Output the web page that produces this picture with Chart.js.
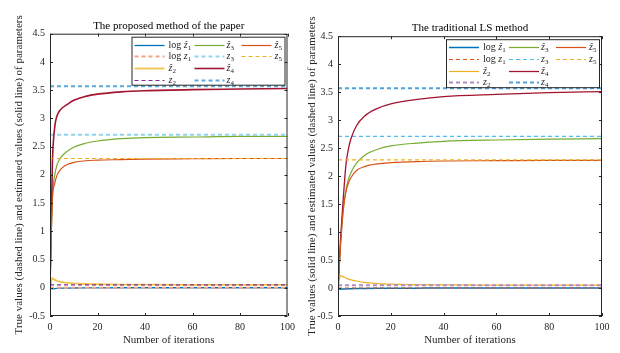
<!DOCTYPE html>
<html>
<head>
<meta charset="utf-8">
<script src="https://cdn.jsdelivr.net/npm/chart.js@4.4.1/dist/chart.umd.min.js"></script>
<style>
  html, body { margin: 0; padding: 0; background: #fff; }
  #wrap { position: relative; width: 620px; height: 353px; overflow: hidden; }
  canvas { position: absolute; top: 0; }
  #leftChart { left: 0; }
  #rightChart { left: 300px; }
</style>
</head>
<body>
<div id="wrap">
  <canvas id="leftChart" width="300" height="353"></canvas>
  <canvas id="rightChart" width="320" height="353"></canvas>
</div>
<script>
// ===== Data =====
const iterations = [0, 1, 2, 3, 4, 5, 7, 10, 15, 20, 30, 40, 60, 80, 100];

// true parameter values: log z1, z2, z3, z4, z5
const trueValues = [0, 0.05, 2.71, 3.57, 2.29];

// proposed method (left)
const leftLogZ1 = [0, -0.02, -0.015, -0.012, -0.01, -0.008, -0.006, -0.004, -0.002, -0.001, 0, 0, 0, 0, 0];
const leftZ2 = [0, 0.17, 0.14, 0.12, 0.11, 0.1, 0.088, 0.077, 0.067, 0.062, 0.057, 0.054, 0.052, 0.051, 0.05];
const leftZ3 = [0, 1.6, 2.0, 2.18, 2.27, 2.33, 2.41, 2.49, 2.56, 2.6, 2.64, 2.66, 2.67, 2.68, 2.68];
const leftZ4 = [0, 2.2, 2.85, 3.05, 3.13, 3.18, 3.24, 3.32, 3.39, 3.43, 3.47, 3.49, 3.51, 3.52, 3.53];
const leftZ5 = [0, 1.55, 1.85, 2.0, 2.07, 2.12, 2.18, 2.22, 2.25, 2.26, 2.27, 2.28, 2.285, 2.29, 2.29];

// traditional LS method (right)
const rightLogZ1 = [0, -0.02, -0.018, -0.016, -0.014, -0.012, -0.01, -0.008, -0.005, -0.003, -0.002, -0.001, 0, 0, 0];
const rightZ2 = [0, 0.22, 0.2, 0.18, 0.16, 0.145, 0.125, 0.1, 0.08, 0.07, 0.06, 0.056, 0.053, 0.051, 0.05];
const rightZ3 = [0, 0.8, 1.4, 1.75, 1.95, 2.07, 2.23, 2.37, 2.48, 2.54, 2.59, 2.62, 2.645, 2.66, 2.67];
const rightZ4 = [0, 0.9, 1.6, 2.2, 2.5, 2.68, 2.9, 3.07, 3.21, 3.29, 3.37, 3.42, 3.46, 3.49, 3.51];
const rightZ5 = [0, 0.8, 1.4, 1.72, 1.88, 1.98, 2.1, 2.17, 2.22, 2.24, 2.26, 2.27, 2.275, 2.28, 2.28];

// legend text: name + subscript, in plotting order
const legendNames = ["log ẑ", "log z", "ẑ", "z", "ẑ", "z", "ẑ", "z", "ẑ", "z"];
const legendSubs = ["1", "1", "2", "2", "3", "3", "4", "4", "5", "5"];

const FONT = "'Liberation Serif', 'DejaVu Serif', serif";
const INK = "#262626";
Chart.defaults.font.family = FONT;
Chart.defaults.color = INK;

// line styles [color, width, dashed]
const leftStyles = [
  ["#0072BD", 1.3], ["#F4A582", 2, true],
  ["#F2C14E", 1.8], ["#7E2F8E", 1.2, true],
  ["#77AC30", 1.2], ["#8FD3F2", 2, true],
  ["#A2142F", 1.6], ["#5BA8DD", 2, true],
  ["#D95319", 1.2], ["#EDB120", 1.2, true]
];
const rightStyles = [
  ["#0072BD", 1.5], ["#D95319", 1.2, true],
  ["#EDB120", 1.2], ["#B58BC4", 2, true],
  ["#77AC30", 1.2], ["#4DBEEE", 1.2, true],
  ["#A2142F", 1.3], ["#4DA3DE", 2, true],
  ["#D95319", 1.2], ["#EDB120", 1.2, true]
];

function buildDatasets(estimates, styles) {
  const sets = [];
  estimates.forEach((vals, p) => {
    sets.push({ data: iterations.map((k, i) => ({ x: k, y: vals[i] })) });
    sets.push({ data: [{ x: 0, y: trueValues[p] }, { x: 100, y: trueValues[p] }] });
  });
  return sets.map((ds, i) => {
    const [color, width, dashed] = styles[i];
    return Object.assign(ds, {
      borderColor: color,
      borderWidth: width,
      borderDash: dashed ? [4, 3] : [],
      pointRadius: 0,
      fill: false,
      cubicInterpolationMode: "monotone",
      order: -i
    });
  });
}

// box around the axes + inward ticks (matlab style)
const framePlugin = {
  id: "frame",
  afterDatasetsDraw(chart) {
    const { ctx, chartArea: a, scales: { x, y } } = chart;
    ctx.save();
    ctx.strokeStyle = INK;
    ctx.lineWidth = 1;
    ctx.setLineDash([]);
    ctx.strokeRect(a.left + 0.5, a.top + 0.5, a.width - 1, a.height - 1);
    ctx.beginPath();
    x.ticks.forEach(t => {
      const px = Math.round(x.getPixelForValue(t.value)) + 0.5;
      ctx.moveTo(px, a.bottom); ctx.lineTo(px, a.bottom - 3);
      ctx.moveTo(px, a.top); ctx.lineTo(px, a.top + 3);
    });
    y.ticks.forEach(t => {
      const py = Math.round(y.getPixelForValue(t.value)) + 0.5;
      ctx.moveTo(a.left, py); ctx.lineTo(a.left + 3, py);
      ctx.moveTo(a.right, py); ctx.lineTo(a.right - 3, py);
    });
    ctx.stroke();
    ctx.restore();
  }
};

const legendPlugin = {
  id: "gridLegend",
  afterDraw(chart) {
    const { ctx, chartArea: a } = chart;
    const w = 153, h = 48;
    const x0 = a.right - 3 - w, y0 = a.top + 3;
    const lineX = [3, 63, 110], textX = [37, 95, 143];
    ctx.save();
    ctx.fillStyle = "#fff";
    ctx.fillRect(x0, y0, w, h);
    ctx.strokeStyle = INK;
    ctx.lineWidth = 1;
    ctx.strokeRect(x0 + 0.5, y0 + 0.5, w, h);
    chart.data.datasets.forEach((ds, i) => {
      const c = Math.floor(i / 4), r = i % 4;
      const cy = Math.round(y0 + 8 + r * 11.7) + 0.5;
      ctx.strokeStyle = ds.borderColor;
      ctx.lineWidth = ds.borderWidth;
      ctx.setLineDash(ds.borderDash);
      ctx.beginPath();
      ctx.moveTo(x0 + lineX[c], cy);
      ctx.lineTo(x0 + lineX[c] + 30, cy);
      ctx.stroke();
      ctx.setLineDash([]);

      let tx = x0 + textX[c];
      let name = legendNames[i];
      ctx.fillStyle = INK;
      ctx.textBaseline = "middle";
      ctx.textAlign = "left";
      if (name.startsWith("log ")) {
        ctx.font = "10px " + FONT;
        ctx.fillText("log ", tx, cy);
        tx += ctx.measureText("log ").width;
        name = name.slice(4);
      }
      ctx.font = "italic 10px " + FONT;
      ctx.fillText(name, tx, cy);
      tx += ctx.measureText(name).width;
      ctx.font = "7px " + FONT;
      ctx.fillText(legendSubs[i], tx, cy + 3);
    });
    ctx.restore();
  }
};

function makeChart(id, titleText, yTitle, estimates, styles, geo) {
  return new Chart(document.getElementById(id), {
    type: "line",
    data: { datasets: buildDatasets(estimates, styles) },
    options: {
      responsive: false,
      animation: false,
      devicePixelRatio: 1,
      layout: { padding: { left: geo.padLeft, right: geo.padRight, top: 0, bottom: 0 } },
      plugins: {
        legend: { display: false },
        tooltip: { enabled: false },
        title: {
          display: true,
          text: titleText,
          fullSize: false,
          color: "#000",
          font: { size: 11, weight: "normal", family: FONT },
          padding: { top: geo.titleTop, bottom: geo.titleBottom }
        }
      },
      scales: {
        x: {
          type: "linear",
          min: 0, max: 100,
          grid: { display: false, drawTicks: false },
          border: { display: false },
          ticks: { stepSize: 20, padding: 5, font: { size: 10 }, color: INK, maxRotation: 0 },
          title: { display: true, text: "Number of iterations", color: INK, font: { size: 11 }, padding: { top: 0, bottom: 6 } },
          afterFit: s => { s.height = 37; }
        },
        y: {
          min: -0.5, max: 4.5,
          grid: { display: false, drawTicks: false },
          border: { display: false },
          ticks: {
            stepSize: 0.5, padding: 5, font: { size: 10 }, color: INK,
            callback: v => String(Number(v.toFixed(2)))
          },
          title: { display: true, text: yTitle, color: INK, font: { size: 11 }, padding: { top: 0, bottom: 0 } },
          afterFit: s => { s.width = geo.yWidth; }
        }
      }
    },
    plugins: [framePlugin, legendPlugin]
  });
}

makeChart("leftChart", "The proposed method of the paper",
  "True values (dashed line) and estimated values (solid line) of parameters",
  [leftLogZ1, leftZ2, leftZ3, leftZ4, leftZ5], leftStyles,
  { padLeft: 13, padRight: 9, yWidth: 37, titleTop: 20, titleBottom: 0.5 });

makeChart("rightChart", "The traditional LS method",
  "True values (solid line) and estimated values (dashed line) of parameters",
  [rightLogZ1, rightZ2, rightZ3, rightZ4, rightZ5], rightStyles,
  { padLeft: 6, padRight: 18, yWidth: 32, titleTop: 21.5, titleBottom: 1.5 });
</script>
</body>
</html>
